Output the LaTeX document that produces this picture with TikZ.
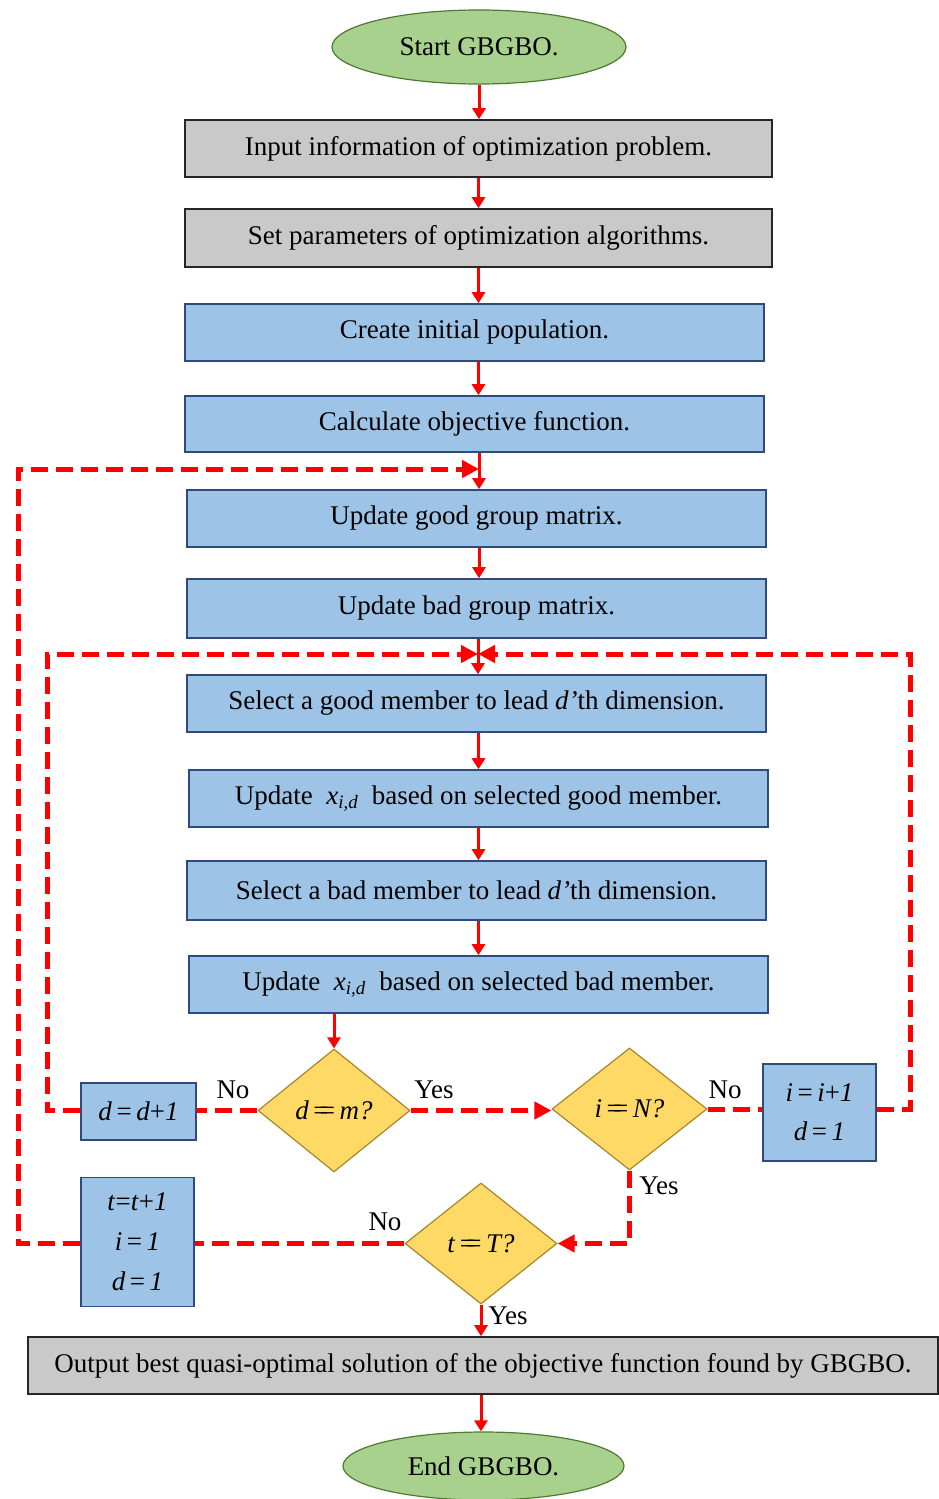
\documentclass[tikz,border=0pt]{standalone}
\usepackage{fontspec}
\setmainfont{Liberation Serif}
\usetikzlibrary{shapes.geometric,arrows.meta}
\definecolor{bluefill}{HTML}{9DC3E6}
\definecolor{blueline}{HTML}{2F4B7C}
\definecolor{grayfill}{HTML}{C9C9C9}
\definecolor{yelfill}{HTML}{FFD966}
\definecolor{yelline}{HTML}{A8872A}
\definecolor{grnfill}{HTML}{A9D18E}
\definecolor{grnline}{HTML}{4F7A32}
\definecolor{myred}{HTML}{FF0000}
\tikzset{
  txt/.style={font=\fontsize{27}{30}\selectfont},
  bluebox/.style={txt,draw=blueline,fill=bluefill,line width=1.6pt,inner sep=0pt},
  graybox/.style={txt,draw=black!85,fill=grayfill,line width=1.6pt,inner sep=0pt},
  dia/.style={txt,diamond,draw=yelline,fill=yelfill,line width=1.2pt,inner sep=0pt},
  oval/.style={txt,ellipse,draw=grnline,fill=grnfill,line width=1.2pt,inner sep=0pt},
  flowarrow/.style={draw=myred,line width=3pt,-{Triangle[length=11pt,width=13pt]}},
  dashline/.style={draw=myred,line width=5pt,dash pattern=on 17pt off 8pt},
  dasharrow/.style={dashline,-{Triangle[length=17pt,width=17pt]}},
  lbl/.style={font=\fontsize{27}{30}\selectfont,inner sep=0pt}
}
\newcommand{\eqq}{\,\raisebox{0pt}{=\kern-0.32em=}\,}
\begin{document}
\begin{tikzpicture}[x=1pt,y=-1pt]
\useasboundingbox (0,0) rectangle (939,1499);
\node[oval,minimum width=294,minimum height=74] (start) at (479,47) {Start GBGBO.};
\node[graybox,minimum width=587,minimum height=57] (b1) at (478.5,148.5) {Input information of optimization problem.};
\node[graybox,minimum width=587,minimum height=58] (b2) at (478.5,238) {Set parameters of optimization algorithms.};
\node[bluebox,minimum width=579,minimum height=57] (b3) at (474.5,332.5) {Create initial population.};
\node[bluebox,minimum width=579,minimum height=56] (b4) at (474.5,424) {Calculate objective function.};
\node[bluebox,minimum width=579,minimum height=57] (b5) at (476.5,518.5) {Update good group matrix.};
\node[bluebox,minimum width=579,minimum height=59] (b6) at (476.5,608.5) {Update bad group matrix.};
\node[bluebox,minimum width=579,minimum height=57] (b7) at (476.5,703.5) {Select a good member to lead \textit{d’}th dimension.};
\node[bluebox,minimum width=579,minimum height=57] (b8) at (478.5,798.5) {Update \ \textit{x}\textsubscript{\textit{i,d}} \ based on selected good member.};
\node[bluebox,minimum width=579,minimum height=59] (b9) at (476.5,890.5) {Select a bad member to lead \textit{d’}th dimension.};
\node[bluebox,minimum width=579,minimum height=57] (b10) at (478.5,984.5) {Update \ \textit{x}\textsubscript{\textit{i,d}} \ based on selected bad member.};
\node[dia,minimum width=152,minimum height=123] (dm) at (334,1110.5) {\textit{d}\eqq\textit{m?}};
\node[bluebox,minimum width=115,minimum height=57] (dd) at (138.5,1111.5) {\textit{d}\,=\,\textit{d}+\textit{1}};
\node[dia,minimum width=155,minimum height=122] (dN) at (629.5,1109) {\textit{i}\eqq\textit{N?}};
\node[bluebox,minimum width=113,minimum height=97,align=center] (bi) at (819.5,1112.5) {\textit{i}\,=\,\textit{i}+\textit{1}\\[9pt]\textit{d}\,=\,\textit{1}};
\node[dia,minimum width=152,minimum height=121] (dT) at (481,1243.5) {\textit{t}\eqq\textit{T?}};
\node[bluebox,minimum width=113,minimum height=129,align=center] (bt) at (137.5,1242) {\textit{t}=\textit{t}+\textit{1}\\[10pt]\textit{i}\,=\,\textit{1}\\[10pt]\textit{d}\,=\,\textit{1}};
\node[graybox,minimum width=910,minimum height=57] (out) at (483,1365.5) {Output best quasi-optimal solution of the objective function found by GBGBO.};
\node[oval,minimum width=281,minimum height=68] (end) at (483.5,1466) {End GBGBO.};
% coordinates for loop joins
\coordinate (m45) at (479,469);
\coordinate (m67) at (478,654);
\coordinate (L1) at (18,469);
\coordinate (L2) at (47,654);
\coordinate (R2) at (910,654);
% dashed loops
\draw[dashline] (dT.west) -- (dT.west -| bt.east);
\draw[dasharrow] (bt.west |- dT.west) -| (L1) -- (m45);
\draw[dashline] (dm.west) -- (dm.west -| dd.east);
\draw[dasharrow] (dd.west |- dm.west) -| (L2) -- (m67);
\draw[dashline] (dN.east) -- (dN.east -| bi.west);
\draw[dasharrow] (bi.east |- dN.east) -| (R2) -- (m67);
\draw[dasharrow] (dm.east) -- (dN.west |- dm.east);
\draw[dasharrow] (dN.south) |- (dT.east);
% solid arrows
\draw[flowarrow] (start.south) -- (b1.north -| start.south);
\draw[flowarrow] (b1.south) -- (b2.north);
\draw[flowarrow] (b2.south) -- (b3.north -| b2.south);
\draw[flowarrow] (b3.south -| b2.south) -- (b4.north -| b2.south);
\draw[flowarrow] (b4.south -| m45) -- (b5.north -| m45);
\draw[flowarrow] (b5.south -| m45) -- (b6.north -| m45);
\draw[flowarrow] (b6.south -| m67) -- (b7.north -| m67);
\draw[flowarrow] (b7.south -| b8.north) -- (b8.north);
\draw[flowarrow] (b8.south) -- (b9.north -| b8.south);
\draw[flowarrow] (b9.south -| b8.south) -- (b10.north);
\draw[flowarrow] (dm.north |- b10.south) -- (dm.north);
\draw[flowarrow] (dT.south) -- (out.north -| dT.south);
\draw[flowarrow] (out.south -| dT.south) -- (end.north -| dT.south);
% labels
\node[lbl] (l1) at (233,1090) {No};
\node[lbl] (l2) at (434,1090) {Yes};
\node[lbl] (l3) at (725,1090) {No};
\node[lbl] (l4) at (659,1186) {Yes};
\node[lbl] (l5) at (385,1222) {No};
\node[lbl] (l6) at (508,1316) {Yes};
\end{tikzpicture}
\end{document}
